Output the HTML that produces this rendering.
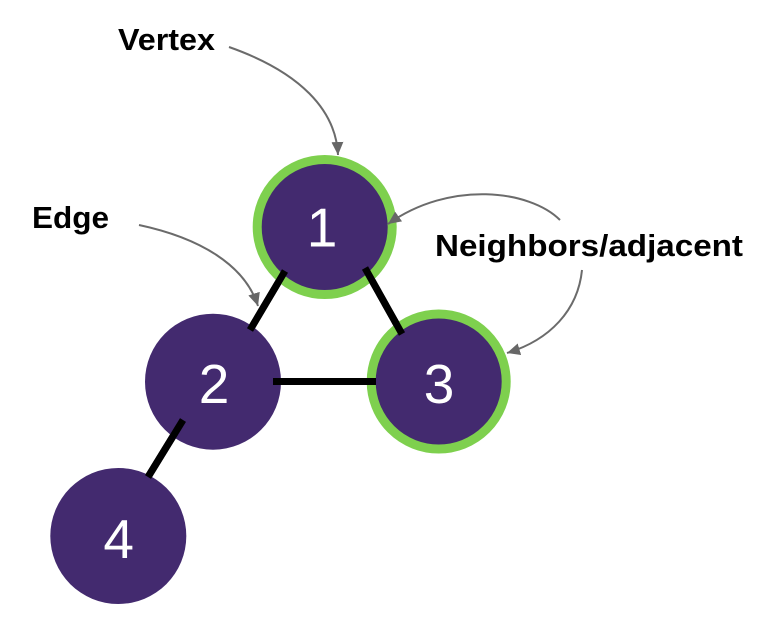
<!DOCTYPE html>
<html><head><meta charset="utf-8"><style>
html,body{margin:0;padding:0;background:#fff;}
svg{display:block;}
</style></head><body>
<svg width="758" height="618" viewBox="0 0 758 618" xmlns="http://www.w3.org/2000/svg">
<defs>
<marker id="ah" markerUnits="userSpaceOnUse" markerWidth="14" markerHeight="12" refX="13" refY="6" orient="auto">
<path d="M0,0 L13,6 L0,12 Z" fill="#676767"/>
</marker>
</defs>
<!-- edges -->
<g stroke="#000" stroke-width="7" stroke-linecap="butt">
<line x1="285" y1="271" x2="250" y2="330"/>
<line x1="365" y1="268" x2="402" y2="334"/>
<line x1="273" y1="381.5" x2="376" y2="381.5"/>
<line x1="183" y1="420" x2="148" y2="477"/>
</g>
<!-- nodes -->
<circle cx="324.7" cy="227" r="67.5" fill="#432a6f" stroke="#7ed04e" stroke-width="9"/>
<circle cx="438.7" cy="381.5" r="67.5" fill="#432a6f" stroke="#7ed04e" stroke-width="9"/>
<circle cx="213" cy="381.7" r="68" fill="#432a6f"/>
<circle cx="118.3" cy="536" r="68" fill="#432a6f"/>
<!-- edges over nodes (they overlap node edges) -->
<g stroke="#000" stroke-width="7">
<line x1="285" y1="271" x2="250" y2="330"/>
<line x1="365" y1="268" x2="402" y2="334"/>
<line x1="273" y1="381.5" x2="376" y2="381.5"/>
<line x1="183" y1="420" x2="148" y2="477"/>
</g>
<g font-family="'Liberation Sans', Arial, sans-serif" fill="#fff" font-size="55" text-anchor="middle">
<text x="322" y="246.5">1</text>
<text x="439" y="403">3</text>
<text x="214" y="403">2</text>
<text x="118.7" y="558">4</text>
</g>
<!-- arrows -->
<g fill="none" stroke="#6b6b6b" stroke-width="2" marker-end="url(#ah)">
<path d="M229,47 C300,72 336,110 338,155"/>
<path d="M139,225 C200,238 245,265 258,306"/>
<path d="M560,220 C530,190 450,180 388,224"/>
<path d="M582,270 C578,310 550,340 507,353"/>
</g>
<g font-family="'Liberation Sans', Arial, sans-serif" font-weight="bold" fill="#000" font-size="30.5">
<text x="118" y="50" textLength="97" lengthAdjust="spacingAndGlyphs">Vertex</text>
<text x="32" y="228" textLength="77" lengthAdjust="spacingAndGlyphs">Edge</text>
<text x="435" y="256" textLength="308" lengthAdjust="spacingAndGlyphs">Neighbors/adjacent</text>
</g>
</svg>
</body></html>
